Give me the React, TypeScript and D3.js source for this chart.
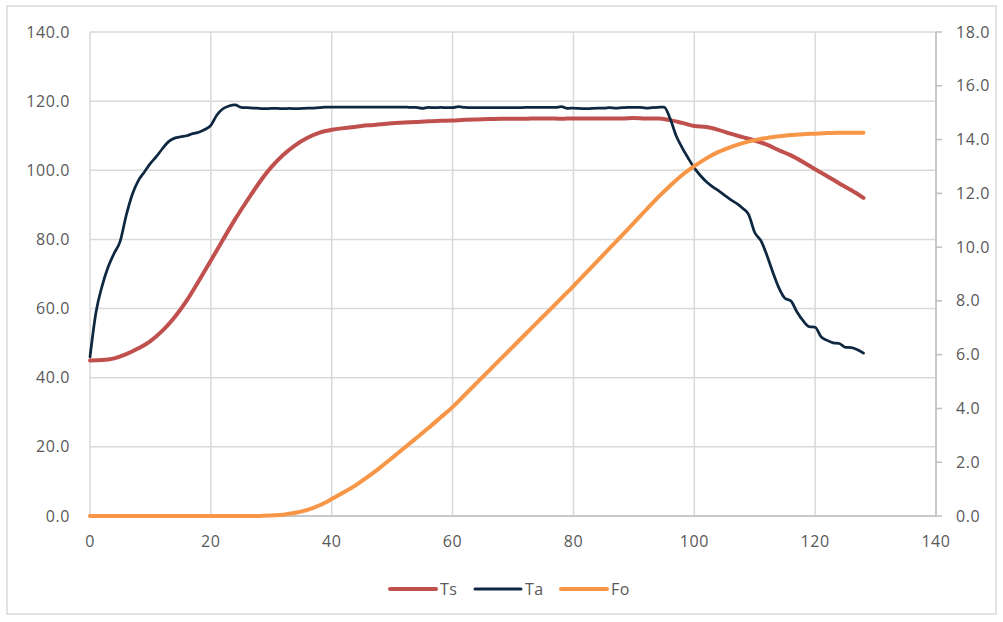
import React from "react";
import * as d3 from "d3";

// Time axis (minutes) for the product temperature and lethality series
const tsTime = [
  0, 2, 4, 6, 8, 10, 12, 14, 16, 18, 20, 22, 24, 26, 28, 30, 32, 34, 36, 38, 40,
  42, 44, 46, 48, 50, 52, 54, 56, 58, 60, 62, 64, 66, 68, 70, 72, 74, 76, 78, 80,
  82, 84, 86, 88, 90, 92, 94, 96, 98, 100, 102, 104, 106, 108, 110, 112, 114, 116,
  118, 120, 122, 124, 126, 128,
];

// Ts: product (core) temperature
const tsValues = [
  45.0, 45.1, 45.6, 46.8, 48.5, 50.6, 53.6, 57.5, 62.3, 68.0, 73.9, 79.9, 85.8,
  91.2, 96.4, 100.9, 104.5, 107.3, 109.4, 110.9, 111.7, 112.2, 112.6, 113.0,
  113.3, 113.6, 113.8, 114.0, 114.2, 114.3, 114.4, 114.6, 114.7, 114.8, 114.9,
  114.9, 114.9, 115.0, 115.0, 114.9, 115.0, 115.0, 115.0, 115.0, 115.0, 115.1,
  115.0, 115.0, 114.5, 113.7, 112.8, 112.5, 111.7, 110.6, 109.6, 108.6, 107.4,
  105.8, 104.3, 102.4, 100.3, 98.3, 96.2, 94.2, 92.0,
];

// Fo: accumulated lethality (secondary axis)
const foValues = [
  0, 0, 0, 0, 0, 0, 0, 0, 0, 0, 0, 0, 0, 0, 0, 0.02, 0.05, 0.12, 0.23, 0.4, 0.63,
  0.88, 1.15, 1.46, 1.8, 2.16, 2.53, 2.9, 3.27, 3.66, 4.05, 4.5, 4.95, 5.4, 5.85,
  6.3, 6.75, 7.2, 7.65, 8.1, 8.55, 9.02, 9.49, 9.96, 10.43, 10.9, 11.38, 11.85,
  12.28, 12.68, 13.01, 13.3, 13.54, 13.72, 13.87, 13.98, 14.06, 14.12, 14.17,
  14.2, 14.22, 14.24, 14.25, 14.25, 14.25,
];

// Ta: retort (ambient) temperature, logged every minute
const taTime = d3.range(0, 129);
const taValues = [
  46.0, 59.0, 66.5, 72.0, 76.0, 79.5, 87.0, 93.0, 97.0, 99.5, 102.0, 104.0,
  106.3, 108.3, 109.3, 109.7, 110.0, 110.6, 111.0, 111.8, 113.0, 116.0, 117.8,
  118.6, 118.9, 118.2, 118.1, 118.0, 117.9, 117.8, 117.9, 117.9, 117.8, 117.9,
  117.8, 117.9, 118.0, 118.0, 118.1, 118.3, 118.3, 118.3, 118.3, 118.3, 118.3,
  118.3, 118.3, 118.3, 118.3, 118.3, 118.3, 118.3, 118.3, 118.2, 118.2, 117.9,
  118.2, 118.1, 118.2, 118.1, 118.1, 118.4, 118.2, 118.1, 118.1, 118.1, 118.1,
  118.1, 118.1, 118.1, 118.1, 118.1, 118.2, 118.2, 118.2, 118.2, 118.2, 118.2,
  118.4, 117.9, 118.0, 117.9, 117.8, 117.9, 118.0, 118.0, 118.1, 118.0, 118.1,
  118.2, 118.2, 118.2, 118.0, 118.1, 118.2, 118.3, 115.0, 110.0, 106.5, 103.5,
  100.7, 98.5, 96.7, 95.3, 94.1, 92.8, 91.5, 90.4, 89.0, 87.2, 82.0, 79.7, 75.5,
  70.5, 66.0, 63.0, 62.2, 59.0, 56.5, 54.8, 54.6, 51.8, 50.8, 50.1, 49.9, 48.8,
  48.7, 48.1, 47.1,
];

const xTicks = [0, 20, 40, 60, 80, 100, 120, 140];
const yLeftTicks = [0, 20, 40, 60, 80, 100, 120, 140];
const yRightTicks = [0, 2, 4, 6, 8, 10, 12, 14, 16, 18];

const seriesNames = ["Ts", "Ta", "Fo"];
const seriesColors: Record<string, string> = {
  Ts: "#C0504D",
  Ta: "#0E2841",
  Fo: "#F79646",
};

const W = 1003;
const H = 622;
const margin = { left: 90, right: 67, top: 32, bottom: 106 };
const font = "'Open Sans', 'Liberation Sans', sans-serif";
const textColor = "#595959";
const gridColor = "#d9d9d9";
const axisColor = "#bfbfbf";

export default function App() {
  const x = d3
    .scaleLinear()
    .domain([0, 140])
    .range([margin.left, W - margin.right]);
  const yL = d3
    .scaleLinear()
    .domain([0, 140])
    .range([H - margin.bottom, margin.top]);
  const yR = d3
    .scaleLinear()
    .domain([0, 18])
    .range([H - margin.bottom, margin.top]);

  const tsLine = d3
    .line<number>()
    .x((_, i) => x(tsTime[i]))
    .y((d) => yL(d))
    .curve(d3.curveMonotoneX);
  const taLine = d3
    .line<number>()
    .x((_, i) => x(taTime[i]))
    .y((d) => yL(d))
    .curve(d3.curveMonotoneX);
  const foLine = d3
    .line<number>()
    .x((_, i) => x(tsTime[i]))
    .y((d) => yR(d))
    .curve(d3.curveMonotoneX);

  const [x0, x1] = x.range();
  const [yb, yt] = yL.range();

  const legendY = 589;
  const legendItems = [
    { name: seriesNames[0], x: 390 },
    { name: seriesNames[1], x: 475 },
    { name: seriesNames[2], x: 561 },
  ];

  return (
    <svg
      width={W}
      height={H}
      style={{ position: "absolute", left: 0, top: 0, background: "#fff" }}
    >
      <rect x={0} y={0} width={W} height={H} fill="#fff" />
      <rect
        x={7}
        y={6}
        width={989}
        height={608}
        fill="none"
        stroke={gridColor}
        strokeWidth={1.5}
      />

      {/* horizontal gridlines */}
      {yLeftTicks.map((t) => (
        <line
          key={"gy" + t}
          x1={x0}
          x2={x1}
          y1={yL(t)}
          y2={yL(t)}
          stroke={gridColor}
          strokeWidth={1.5}
        />
      ))}
      {/* vertical gridlines */}
      {xTicks.map((t) => (
        <line
          key={"gx" + t}
          x1={x(t)}
          x2={x(t)}
          y1={yt}
          y2={yb}
          stroke={gridColor}
          strokeWidth={1.5}
        />
      ))}

      {/* bottom axis line and secondary axis */}
      <line x1={x0} x2={x1} y1={yb} y2={yb} stroke={axisColor} strokeWidth={1.5} />
      <line x1={x1} x2={x1} y1={yt} y2={yb} stroke={axisColor} strokeWidth={1.5} />
      {yRightTicks.map((t) => (
        <line
          key={"rt" + t}
          x1={x1}
          x2={x1 + 6}
          y1={yR(t)}
          y2={yR(t)}
          stroke={axisColor}
          strokeWidth={1.5}
        />
      ))}

      {/* left axis labels */}
      {yLeftTicks.map((t) => (
        <text
          key={"ly" + t}
          x={70}
          y={yL(t)}
          dy="0.35em"
          textAnchor="end"
          fontFamily={font}
          fontSize={16}
          letterSpacing={0.6}
          fill={textColor}
        >
          {t.toFixed(1)}
        </text>
      ))}
      {/* right axis labels */}
      {yRightTicks.map((t) => (
        <text
          key={"ry" + t}
          x={956}
          y={yR(t)}
          dy="0.35em"
          textAnchor="start"
          fontFamily={font}
          fontSize={16}
          letterSpacing={0.6}
          fill={textColor}
        >
          {t.toFixed(1)}
        </text>
      ))}
      {/* x axis labels */}
      {xTicks.map((t) => (
        <text
          key={"lx" + t}
          x={x(t)}
          y={541}
          dy="0.35em"
          textAnchor="middle"
          fontFamily={font}
          fontSize={16}
          letterSpacing={0.6}
          fill={textColor}
        >
          {t}
        </text>
      ))}

      {/* series */}
      <path
        d={tsLine(tsValues) ?? ""}
        fill="none"
        stroke={seriesColors.Ts}
        strokeWidth={4}
        strokeLinejoin="round"
        strokeLinecap="round"
      />
      <path
        d={taLine(taValues) ?? ""}
        fill="none"
        stroke={seriesColors.Ta}
        strokeWidth={2.75}
        strokeLinejoin="round"
        strokeLinecap="round"
      />
      <path
        d={foLine(foValues) ?? ""}
        fill="none"
        stroke={seriesColors.Fo}
        strokeWidth={4}
        strokeLinejoin="round"
        strokeLinecap="round"
      />

      {/* legend */}
      {legendItems.map((it) => (
        <g key={it.name}>
          <line
            x1={it.x}
            x2={it.x + 46}
            y1={legendY}
            y2={legendY}
            stroke={seriesColors[it.name]}
            strokeWidth={it.name === "Ta" ? 3 : 4}
            strokeLinecap="round"
          />
          <text
            x={it.x + 50}
            y={legendY}
            dy="0.35em"
            fontFamily={font}
            fontSize={16}
            letterSpacing={0.4}
            fill={textColor}
          >
            {it.name}
          </text>
        </g>
      ))}
    </svg>
  );
}
